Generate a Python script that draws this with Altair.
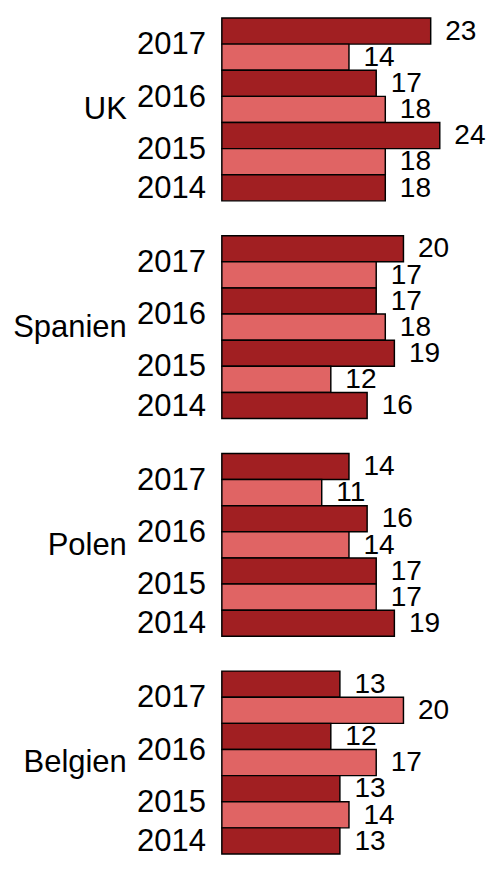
import altair as alt
import pandas as pd

countries = ["UK", "Spanien", "Polen", "Belgien"]
bar_years = ["2017", "2017", "2016", "2016", "2015", "2015", "2014"]
bar_series = ["dunkel", "hell", "dunkel", "hell", "dunkel", "hell", "dunkel"]
uk = [23, 14, 17, 18, 24, 18, 18]
spanien = [20, 17, 17, 18, 19, 12, 16]
polen = [14, 11, 16, 14, 17, 17, 19]
belgien = [13, 20, 12, 17, 13, 14, 13]
series_names = ["dunkel", "hell"]
series_colors = ["#A11F22", "#E06464"]

values = {"UK": uk, "Spanien": spanien, "Polen": polen, "Belgien": belgien}
rows = []
for c in countries:
    for i, (yr, s, v) in enumerate(zip(bar_years, bar_series, values[c])):
        rows.append({"Land": c, "Jahr": yr, "Serie": s, "Wert": v, "slot": i})
df = pd.DataFrame(rows)

# year tick = centre of the slots that belong to that year
slots_per_year = {}
for i, yr in enumerate(bar_years):
    slots_per_year.setdefault(yr, []).append(i + 0.5)
ticks = [(sum(v) / len(v), yr) for yr, v in slots_per_year.items()]
label_expr = "''"
for p, yr in reversed(ticks):
    label_expr = f"abs(datum.value - {p}) < 0.01 ? '{yr}' : ({label_expr})"

yscale = alt.Scale(domain=[0, 7], reverse=True, nice=False, zero=False)
xscale = alt.Scale(domain=[0, 26], nice=False)

base = alt.Chart().transform_calculate(
    slot_end="datum.slot + 1", slot_mid="datum.slot + 0.5"
)

bars = base.mark_rect(stroke="black", strokeWidth=1.5).encode(
    x=alt.X("Wert:Q", scale=xscale, axis=None),
    x2=alt.datum(0),
    y=alt.Y(
        "slot:Q",
        scale=yscale,
        axis=alt.Axis(
            values=[t[0] for t in ticks],
            labelExpr=label_expr,
            title=None,
            ticks=False,
            domain=False,
            grid=False,
            labelFontSize=32,
            labelPadding=16,
            labelColor="black",
        ),
    ),
    y2="slot_end:Q",
    color=alt.Color(
        "Serie:N",
        scale=alt.Scale(domain=series_names, range=series_colors),
        legend=None,
    ),
)

labels = base.mark_text(
    align="left", baseline="middle", dx=15, fontSize=29, color="black"
).encode(
    x=alt.X("Wert:Q", scale=xscale, axis=None),
    y=alt.Y("slot_mid:Q", scale=yscale),
    text="Wert:Q",
)

chart = (
    alt.layer(bars, labels, data=df)
    .properties(width=244, height=189)
    .facet(
        row=alt.Row(
            "Land:N",
            sort=countries,
            header=alt.Header(
                title=None,
                labelAngle=0,
                labelAlign="left",
                labelOrient="left",
                labelFontSize=32,
                labelPadding=10,
                labelBaseline="middle",
                labelColor="black",
            ),
        ),
        spacing=33,
    )
    .properties(padding={"left": 5, "top": -5, "right": 0, "bottom": -8})
    .configure(font="Liberation Sans")
    .configure_view(stroke=None)
)

chart.save("out.html", embed_options={"renderer": "svg", "actions": False})
